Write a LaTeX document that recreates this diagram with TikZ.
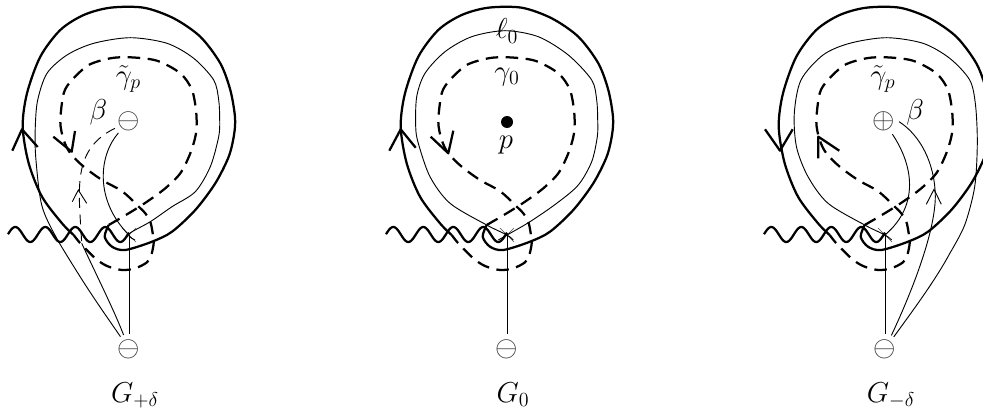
\documentclass[tikz,border=0pt]{standalone}
\usepackage{amsmath}
\usetikzlibrary{shapes.misc}

\begin{document}
\begin{tikzpicture}[
        x=0.6pt, y=0.6pt,
        boldline/.style={line width=1.35pt, line join=round},
        thinline/.style={line width=0.55pt},
        gammaline/.style={line width=1.35pt, dash pattern=on 7.5pt off 4.5pt},
        betaline/.style={line width=0.55pt, dash pattern=on 6pt off 4pt},
        charge/.style={circle, inner sep=0pt, font=\LARGE, text=black!80},
        label/.style={font=\LARGE, inner sep=0pt},
        point/.style={circle, fill=black, inner sep=0pt, minimum size=7.2pt},
        branch/.style={cross out, draw=black!70, line width=0.4pt, inner sep=0pt, minimum size=8pt},
        sheet/.pic={
            \node[branch] (cross) at (0,0) {};
            \node[charge] (minus) at (0,-114) {$\ominus$};
            \draw[thinline] (minus) -- (cross.center);
            % outer contour
            \draw[boldline] plot[smooth] coordinates {(-20.3,10) (-24.3,-1.7) (-17,-11.7) (-3.7,-15) (23,-6.7) (43,3.3) (66.3,25) (86.3,51.7) (99.7,78.3) (105,100) (106,118) (101.3,145) (91.3,171.7) (71.3,198.3) (44.7,216.7) (14.7,227.3) (-18.7,227.3) (-45.3,220) (-68.7,205) (-88.7,178.3) (-102,141.7) (-106.3,108.3) (-100.3,71.7) (-87,38.3) (-67,11.7) (-55.3,0)};
            % gamma
            \draw[gammaline] plot[smooth] coordinates {(-20.3,10) (-0.3,21.7) (18,33.3) (36.3,46.7) (51.3,61.7) (61.3,81.7) (67,101.7) (67.3,121.7) (63,145) (51.3,161.7) (28,174.3) (1.3,177.7) (-18.7,176.7) (-40.3,170) (-57,155) (-65.3,141.7) (-68.7,113.3) (-65.3,95) (-58.7,81.7) (-45.3,68.3) (-27,55) (-8.7,45) (1.3,36.7) (8,30) (16.3,21.7) (21.3,13.3) (23.7,1.7) (24.7,-8) (22.3,-20) (18,-27.3) (6.3,-33.3) (-7,-35) (-22,-31) (-33.7,-23.3) (-48.7,-8.3) (-55.3,0)};
            % cut
            \draw[boldline] plot[domain=-121:0, samples=120, smooth] (\x,{0.5+7.5*cos(12*(\x+113.7))});
        }
    ]
        \useasboundingbox (0,0) rectangle (983,-411);

        % left
        \begin{scope}[shift={(129,-235)}]
            \pic (L) at (0,0) {sheet};
            \node[charge] (Lupper) at (-0.7,113.3) {$\ominus$};
            \node[label] (Lbeta) at (-30.5,123) {$\beta$};
            \node[label] (Lgamma) at (-0.5,156) {$\tilde{\gamma}_p$};
            \node[label, anchor=base] (Lname) at (6,-167) {$G_{+\delta}$};
            \coordinate (Lcut) at (-47.3,-8.3);
            \draw[boldline] (-116.7,84.3) -- (-107,105.7) -- (-91.3,88);
            \draw[boldline] (-75.7,98.3) -- (-57.3,83.3) -- (-54,104);
            \draw[thinline] plot[smooth] coordinates {(6,-5) (0,1) (21.3,13.3) (43,28.3) (66.3,43.3) (81.3,68.3) (89.7,98.3) (90.7,115) (89.7,135) (84.7,155) (64.7,176.7) (38,191.7) (1.3,197.3) (-35.3,191.7) (-62,180) (-82,161.7) (-91.3,135) (-93.7,108.3) (-93.3,78.3) (-87.3,30) (-72.3,-3.3) (-45.7,-46.7)} .. controls (-32,-68) and (-20,-85) .. (Lminus);
            \draw[thinline] (Lupper) .. controls (-30,80) and (-35,35) .. (Lcross.center);
            \draw[betaline] (Lupper) .. controls (-58,85) and (-50,45) .. (Lcut);
            \draw[thinline] (Lcut) .. controls (-35,-35) and (-15,-75) .. (Lminus);
            \draw[thinline] (-56.7,33.3) -- (-50.7,45) -- (-42.3,31.7);
        \end{scope}

        % middle
        \begin{scope}[shift={(507,-235)}]
            \pic (M) at (0,0) {sheet};
            \node[point] (Mpoint) at (0,113) {};
            \node[label] (Mp) at (-1,90) {$p$};
            \node[label] (Mgamma) at (0,158) {$\gamma_0$};
            \node[label] (Mell) at (0,204) {$\ell_0$};
            \node[label, anchor=base] (Mname) at (6,-167) {$G_0$};
            \draw[boldline] (-117.7,84.3) -- (-106.3,105.7) -- (-91.3,87.3);
            \draw[boldline] (-76.3,98.3) -- (-58.7,81.7) -- (-53.7,104.3);
            \draw[thinline] plot[smooth] coordinates {(-8.7,-5) (0,0) (23,13.3) (49.7,31.7) (71.3,50) (84.7,73.3) (90.3,98.3) (90.7,115) (89.7,135) (84.7,155) (61.3,180) (31.3,198.3) (-2,204.3) (-35.3,198.3) (-62,183.3) (-82,161.7) (-90.3,138.3) (-91.3,108.3) (-88.7,91.7) (-77,58.3) (-57,31.7) (-20.3,10) (0,0) (6.3,-5)};
        \end{scope}

        % right
        \begin{scope}[shift={(885,-235)}]
            \pic (R) at (0,0) {sheet};
            \node[charge] (Rupper) at (-1,113.3) {$\oplus$};
            \node[label] (Rbeta) at (30,123) {$\beta$};
            \node[label] (Rgamma) at (-2,156) {$\tilde{\gamma}_p$};
            \node[label, anchor=base] (Rname) at (6,-167) {$G_{-\delta}$};
            \coordinate (Rbend) at (50.3,38.3);
            \draw[boldline] (-120,105.7) -- (-105,84.3) -- (-92.3,105.7);
            \draw[boldline] (-45.7,84.3) -- (-66.7,98.3) -- (-66.7,76.7);
            \draw[thinline] plot[smooth] coordinates {(6.7,-5) (0,0) (-20.3,10) (-57,31.7) (-77,58.3) (-88.5,88) (-90.7,121.7) (-84,155) (-62,180) (-35.3,191.7) (1.3,197.3) (38,191.7) (64.7,176.7) (84.7,155) (90.5,130) (92.3,91.7) (89.7,48.3) (79.7,10) (65,-18)} .. controls (50,-46) and (26,-78) .. (Rminus);
            \draw[thinline] (Rupper) .. controls (28,70) and (35,30) .. (Rcross.center);
            \draw[thinline] (Rupper.east) .. controls (35,100) and (50,72) .. (Rbend) .. controls (50,5) and (30,-50) .. (Rminus);
            \draw[thinline] (41.3,30.7) -- (49,45.7) -- (56.3,30.7);
        \end{scope}
    \end{tikzpicture}
\end{document}
